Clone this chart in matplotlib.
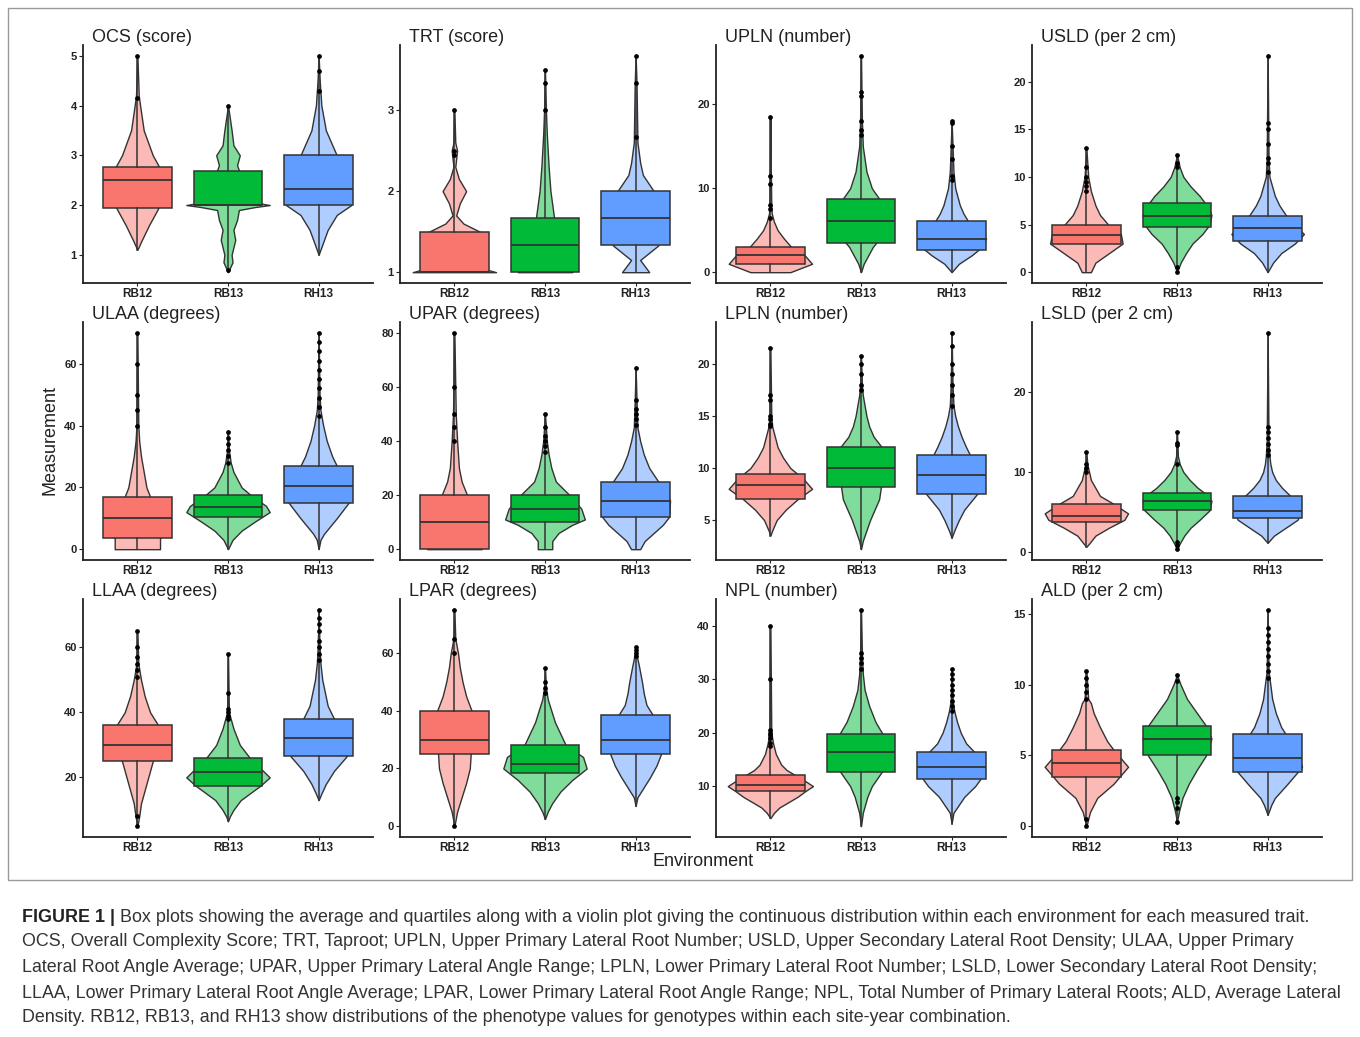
import matplotlib
matplotlib.use("Agg")
import matplotlib.pyplot as plt
from matplotlib.patches import Rectangle

plt.rcParams['font.family'] = ['Liberation Sans', 'DejaVu Sans']

envs = ["RB12", "RB13", "RH13"]
colors = ["#F8766D", "#00BA38", "#619CFF"]

titles = ["OCS (score)", "TRT (score)", "UPLN (number)", "USLD (per 2 cm)",
          "ULAA (degrees)", "UPAR (degrees)", "LPLN (number)", "LSLD (per 2 cm)",
          "LLAA (degrees)", "LPAR (degrees)", "NPL (number)", "ALD (per 2 cm)"]

yticks = [[1, 2, 3, 4, 5], [1, 2, 3], [0, 10, 20], [0, 5, 10, 15, 20],
          [0, 20, 40, 60], [0, 20, 40, 60, 80], [5, 10, 15, 20], [0, 10, 20],
          [20, 40, 60], [0, 20, 40, 60], [10, 20, 30, 40], [0, 5, 10, 15]]

# box statistics per trait, one value per environment
q1 = [[1.95, 2.0, 2.0], [1.0, 1.0, 1.33], [1.0, 3.5, 2.7], [3.0, 4.7, 3.3],
      [3.5, 10.5, 15], [0, 10, 12], [7.0, 8.2, 7.5], [3.7, 5.2, 4.2],
      [25, 17.5, 26.5], [25, 18.5, 25], [9, 12.7, 11.4], [3.5, 5.0, 3.8]]
med = [[2.5, 2.0, 2.33], [1.0, 1.33, 1.67], [2.0, 6.1, 4.0], [3.9, 5.9, 4.6],
       [10, 13.5, 20.5], [10, 15, 18], [8.4, 10, 9.3], [4.5, 6.4, 5.1],
       [30, 21.5, 32], [30, 21.5, 30], [10.3, 16.4, 13.5], [4.5, 6.2, 4.8]]
q3 = [[2.76, 2.68, 3.0], [1.5, 1.67, 2.0], [3.0, 8.7, 6.1], [5.0, 7.3, 5.9],
      [17, 17.5, 27], [20, 20, 25], [9.4, 12, 11.3], [6.0, 7.4, 7.0],
      [36, 26, 38], [40, 28, 38.5], [12, 19.7, 16.4], [5.4, 7.1, 6.5]]
vmin = [[1.1, 0.65, 1.0], [1.0, 1.0, 1.0], [0, 0, 0], [0, 0, 0],
        [0, 0, 0], [0, 0, 0], [3.5, 2.2, 3.3], [0.6, 0.3, 1.1],
        [5, 6.5, 13], [0, 2.5, 7], [4, 2.5, 3], [0, 0.3, 0.8]]
vmax = [[5.0, 4.0, 5.0], [3.0, 3.5, 3.67], [18.5, 25.8, 18], [13, 12.3, 22.7],
        [70, 38, 70], [80, 50, 67], [21.5, 20.8, 23], [12.5, 15, 27.5],
        [65, 58, 71.5], [75, 55, 62], [40, 43, 32], [11, 10.7, 15.3]]

# individual points visible in the tails
points = [
    [[5.0, 4.15], [4.0, 0.7], [5.0, 4.7, 4.3]],
    [[3.0, 2.5, 2.45], [3.5, 3.33, 3.0], [3.67, 3.33, 2.67]],
    [[18.5, 11.5, 10.5, 8, 7.5, 6.5], [25.8, 21.5, 21, 18, 17, 16.3], [18, 17.8, 15, 13.5, 11.5, 11]],
    [[13, 11, 10, 9.5, 9, 8.5], [12.3, 11.5, 11, 0.5, 0], [22.7, 15.7, 15, 13.5, 12, 11.5, 10.5]],
    [[70, 60, 50, 45, 40], [38, 36, 34, 32, 30, 28], [70, 67, 64, 61, 58, 55, 52, 49, 46, 43]],
    [[80, 60, 50, 45, 40], [50, 45, 42, 40, 38, 36], [67, 55, 52, 50, 48, 46]],
    [[21.5, 17, 16.5, 15, 14.7, 14.2, 14], [20.8, 20, 19, 18, 17.5], [23, 21.7, 20, 19, 18, 17, 16]],
    [[12.5, 11, 10.5, 10], [15, 13.7, 13.4, 11, 1.2, 0.8, 0.3], [27.5, 15.7, 15, 14.3, 13.5, 12.8, 12.2]],
    [[65, 60, 57, 55, 53, 51, 8, 5], [58, 46, 41, 40, 39, 38], [71.5, 69, 67, 65, 62, 60, 58, 56]],
    [[75, 65, 60, 0], [55, 50, 48, 46], [62, 61, 60, 59]],
    [[40, 30, 20.5, 20, 19.5, 19, 18, 17.5], [43, 35, 34, 33, 32], [32, 31, 30, 29, 28, 27, 26, 25, 24]],
    [[11, 10.5, 10, 9.5, 9, 0.5, 0], [10.7, 10.3, 2, 1.7, 1.3, 0.3], [15.3, 14, 13.5, 13, 12.5, 12, 11.5, 11, 10.5]],
]

# violin outlines: levels and half widths
viol_y = [
    [[1.1, 1.3, 1.6, 1.9, 2.2, 2.5, 2.8, 3.0, 3.5, 4.0, 4.2, 5.0],
     [0.65, 0.85, 1.0, 1.3, 1.5, 1.7, 1.9, 1.96, 2.0, 2.05, 2.1, 2.3, 2.6, 2.8, 3.0, 3.2, 3.5, 4.0],
     [1.0, 1.2, 1.5, 1.8, 2.0, 2.2, 2.6, 3.0, 3.5, 4.0, 4.5, 5.0]],
    [[1.0, 1.05, 1.2, 1.5, 1.6, 1.7, 1.85, 2.0, 2.15, 2.3, 2.5, 2.6, 3.0],
     [1.0, 1.2, 1.5, 1.67, 2.0, 2.3, 2.7, 3.0, 3.5],
     [1.0, 1.15, 1.33, 1.67, 2.0, 2.2, 2.35, 2.6, 3.33, 3.67]],
    [[0, 1, 2, 3, 4, 5, 6, 7, 8, 12, 18.5],
     [0, 1, 3, 5, 6, 8, 10, 12, 15, 18, 25.8],
     [0, 1, 2, 2.7, 4, 5, 6.1, 7, 8, 10, 12, 18]],
    [[0, 1, 2, 3, 4, 5, 6, 7, 8.5, 10, 13],
     [0, 1, 2, 3, 4, 5, 6, 7, 8, 9, 10, 11, 12.3],
     [0, 1, 2, 3, 4, 5, 6, 7, 8, 9, 10, 12, 22.7]],
    [[0, 3.5, 5, 10, 17, 20, 25, 30, 35, 40, 70],
     [0, 3, 6, 9, 12, 14, 17.5, 20, 25, 28, 32, 38],
     [0, 3, 5, 10, 15, 20, 27, 30, 35, 40, 45, 50, 70]],
    [[0, 5, 10, 15, 20, 25, 30, 40, 50, 60, 80],
     [0, 3, 6, 9, 11, 15, 20, 25, 30, 35, 40, 50],
     [0, 3, 6, 9, 12, 18, 25, 30, 35, 40, 45, 55, 67]],
    [[3.5, 4, 5, 6, 7, 8, 9, 10, 11, 12, 13, 14, 15, 21.5],
     [2.2, 3, 4, 5, 6, 7, 8.2, 10, 12, 13, 14, 15, 16, 17, 18, 20.8],
     [3.3, 4, 5, 6, 7.5, 9, 11.3, 12, 13, 14, 15, 16, 18, 23]],
    [[0.6, 1, 2, 3, 4, 4.8, 6, 7, 8, 9, 10, 11, 12.5],
     [0.3, 1, 2, 3, 4, 5.2, 6.4, 7.4, 8, 9, 10, 11, 12, 15],
     [1.1, 2, 3, 4, 5, 6, 7, 8, 9, 10, 11, 12, 14, 27.5]],
    [[5, 8, 12, 16, 20, 25, 30, 36, 40, 45, 50, 55, 65],
     [6.5, 8, 10, 13, 17.5, 20, 26, 30, 35, 38, 40, 58],
     [13, 15, 18, 22, 26.5, 32, 38, 42, 46, 50, 55, 60, 71.5]],
    [[0, 5, 10, 15, 20, 25, 32, 40, 45, 50, 55, 60, 65, 75],
     [2.5, 5, 8, 12, 16, 20, 24, 28, 32, 36, 40, 44, 48, 55],
     [7, 10, 13, 17, 21, 25, 32, 38.5, 42, 46, 50, 55, 58, 62]],
    [[4, 5, 6, 7, 8, 9, 10, 11, 12, 13, 14, 16, 18, 20, 40],
     [2.5, 5, 8, 10, 12.7, 16, 19.7, 22, 25, 28, 31, 35, 43],
     [3, 5, 6, 8, 10, 11.4, 13.5, 16.4, 18, 20, 22, 24, 26, 32]],
    [[0, 0.5, 1, 2, 3, 4.2, 5.4, 6, 7, 8, 8.7, 9, 10, 11],
     [0.3, 1, 2, 3, 4, 5, 6.2, 7.1, 8, 9, 10, 10.7],
     [0.8, 1.5, 2, 3, 4.2, 5, 6.5, 7, 8, 9, 10, 11, 15.3]],
]
viol_w = [
    [[0, 0.05, 0.13, 0.22, 0.3, 0.32, 0.23, 0.17, 0.07, 0.03, 0.015, 0],
     [0, 0.05, 0.04, 0.08, 0.06, 0.1, 0.12, 0.3, 0.46, 0.3, 0.12, 0.12, 0.14, 0.1, 0.13, 0.06, 0.04, 0],
     [0, 0.04, 0.1, 0.2, 0.36, 0.36, 0.3, 0.2, 0.08, 0.03, 0.012, 0]],
    [[0.46, 0.3, 0.3, 0.28, 0.1, 0.02, 0.06, 0.13, 0.05, 0.01, 0.03, 0.01, 0],
     [0.3, 0.3, 0.2, 0.1, 0.06, 0.04, 0.02, 0.01, 0],
     [0.15, 0.05, 0.25, 0.3, 0.2, 0.08, 0.05, 0.02, 0.01, 0]],
    [[0.22, 0.46, 0.38, 0.23, 0.15, 0.08, 0.04, 0.015, 0.01, 0.005, 0],
     [0, 0.03, 0.13, 0.28, 0.32, 0.25, 0.12, 0.06, 0.02, 0.01, 0],
     [0, 0.08, 0.22, 0.3, 0.38, 0.3, 0.18, 0.13, 0.09, 0.04, 0.02, 0]],
    [[0.05, 0.1, 0.25, 0.4, 0.38, 0.24, 0.15, 0.1, 0.05, 0.02, 0],
     [0, 0.04, 0.1, 0.17, 0.28, 0.36, 0.38, 0.33, 0.25, 0.15, 0.07, 0.03, 0],
     [0, 0.06, 0.15, 0.3, 0.4, 0.3, 0.2, 0.13, 0.08, 0.05, 0.02, 0.01, 0]],
    [[0.25, 0.25, 0.3, 0.28, 0.14, 0.1, 0.07, 0.04, 0.02, 0.01, 0],
     [0, 0.05, 0.15, 0.3, 0.46, 0.42, 0.25, 0.15, 0.06, 0.03, 0.01, 0],
     [0, 0.02, 0.06, 0.2, 0.33, 0.36, 0.2, 0.15, 0.09, 0.05, 0.02, 0.01, 0]],
    [[0.3, 0.3, 0.3, 0.25, 0.14, 0.08, 0.05, 0.03, 0.015, 0.01, 0],
     [0.08, 0.08, 0.15, 0.3, 0.44, 0.4, 0.27, 0.12, 0.07, 0.04, 0.02, 0],
     [0.05, 0.1, 0.2, 0.3, 0.37, 0.38, 0.25, 0.15, 0.09, 0.05, 0.02, 0.01, 0]],
    [[0, 0.02, 0.07, 0.17, 0.3, 0.46, 0.36, 0.22, 0.14, 0.08, 0.05, 0.02, 0.01, 0],
     [0, 0.02, 0.06, 0.1, 0.15, 0.2, 0.22, 0.3, 0.23, 0.14, 0.09, 0.06, 0.04, 0.02, 0.01, 0],
     [0, 0.03, 0.08, 0.14, 0.28, 0.33, 0.2, 0.16, 0.11, 0.07, 0.04, 0.02, 0.01, 0]],
    [[0, 0.03, 0.1, 0.25, 0.42, 0.46, 0.3, 0.15, 0.1, 0.05, 0.03, 0.01, 0],
     [0, 0.03, 0.08, 0.15, 0.25, 0.36, 0.38, 0.3, 0.23, 0.14, 0.07, 0.03, 0.01, 0],
     [0, 0.07, 0.2, 0.33, 0.37, 0.3, 0.25, 0.16, 0.09, 0.05, 0.03, 0.02, 0.01, 0]],
    [[0, 0.02, 0.04, 0.08, 0.12, 0.17, 0.3, 0.23, 0.14, 0.08, 0.04, 0.01, 0],
     [0, 0.02, 0.06, 0.14, 0.36, 0.46, 0.24, 0.13, 0.06, 0.03, 0.01, 0],
     [0, 0.03, 0.08, 0.17, 0.31, 0.35, 0.17, 0.1, 0.07, 0.04, 0.02, 0.01, 0]],
    [[0, 0.03, 0.08, 0.13, 0.17, 0.18, 0.25, 0.19, 0.13, 0.09, 0.06, 0.04, 0.01, 0],
     [0, 0.03, 0.08, 0.17, 0.3, 0.46, 0.42, 0.23, 0.17, 0.11, 0.07, 0.03, 0.01, 0],
     [0, 0.02, 0.08, 0.16, 0.23, 0.28, 0.3, 0.19, 0.12, 0.09, 0.07, 0.04, 0.02, 0]],
    [[0, 0.04, 0.1, 0.2, 0.3, 0.38, 0.47, 0.38, 0.28, 0.18, 0.12, 0.06, 0.03, 0.01, 0],
     [0, 0.02, 0.07, 0.12, 0.23, 0.3, 0.24, 0.16, 0.09, 0.04, 0.02, 0.01, 0],
     [0, 0.02, 0.06, 0.14, 0.26, 0.32, 0.37, 0.25, 0.16, 0.1, 0.06, 0.03, 0.01, 0]],
    [[0, 0.02, 0.04, 0.12, 0.3, 0.46, 0.3, 0.23, 0.15, 0.08, 0.05, 0.02, 0.01, 0],
     [0, 0.02, 0.06, 0.13, 0.22, 0.32, 0.38, 0.32, 0.22, 0.11, 0.04, 0],
     [0, 0.04, 0.08, 0.22, 0.38, 0.33, 0.2, 0.15, 0.09, 0.05, 0.03, 0.01, 0]],
]

W, H = 1360, 1037
fig = plt.figure(figsize=(W / 100, H / 100), dpi=100)

col_left = [83, 400, 716, 1032]
row_bottom = [283, 560, 837]
ax_w, ax_h = 290, 238
edge = "#333333"

for k, title in enumerate(titles):
    r, c = divmod(k, 4)
    ax = fig.add_axes([col_left[c] / W, 1 - row_bottom[r] / H, ax_w / W, ax_h / H])
    pos = [1, 2, 3]

    for g in range(3):
        vp = dict(coords=viol_y[k][g], vals=viol_w[k][g], mean=med[k][g],
                  median=med[k][g], min=vmin[k][g], max=vmax[k][g])
        parts = ax.violin([vp], positions=[pos[g]], widths=[2 * max(viol_w[k][g])],
                          showmeans=False, showextrema=False, showmedians=False)
        for b in parts['bodies']:
            b.set_alpha(None)
            b.set_facecolor(matplotlib.colors.to_rgba(colors[g], 0.5))
            b.set_edgecolor(edge)
            b.set_linewidth(1.0)
            b.set_zorder(2)

    stats = [dict(med=med[k][g], q1=q1[k][g], q3=q3[k][g],
                  whislo=vmin[k][g], whishi=vmax[k][g]) for g in range(3)]
    bp = ax.bxp(stats, positions=pos, widths=0.76, patch_artist=True,
                showfliers=False, showcaps=False,
                boxprops=dict(edgecolor=edge, linewidth=1.1),
                medianprops=dict(color=edge, linewidth=1.3),
                whiskerprops=dict(color=edge, linewidth=1.1), zorder=3)
    for patch, col in zip(bp['boxes'], colors):
        patch.set_facecolor(col)

    for g in range(3):
        ax.plot([pos[g]] * len(points[k][g]), points[k][g], 'o', ms=2.4,
                color='black', zorder=5)

    lo = min(vmin[k])
    hi = max(vmax[k])
    pad = 0.05 * (hi - lo)
    ax.set_ylim(lo - pad, hi + pad)
    ax.set_xlim(0.4, 3.6)
    ax.set_yticks(yticks[k])
    ax.set_xticks(pos)
    ax.set_xticklabels(envs)
    for s in ['top', 'right']:
        ax.spines[s].set_visible(False)
    for s in ['left', 'bottom']:
        ax.spines[s].set_linewidth(1.3)
        ax.spines[s].set_color('#222222')
    ax.tick_params(axis='y', length=3, width=0.8, pad=1.5, labelsize=8,
                   colors='#222222')
    ax.tick_params(axis='x', length=2, width=0.8, pad=1.5, labelsize=8.5,
                   colors='#222222')
    for lab in ax.get_yticklabels() + ax.get_xticklabels():
        lab.set_fontweight('bold')
    ax.patch.set_alpha(0)
    ax.text(0.031, 1.012, title, transform=ax.transAxes, fontsize=13,
            color='#222222', va='baseline', ha='left')

fig.text(50 / W, 1 - 440 / H, "Measurement", rotation=90, fontsize=13,
         ha='center', va='center', color='#222222')
fig.text(703 / W, 1 - 862 / H, "Environment", fontsize=13,
         ha='center', va='center', color='#222222')

# thin frame around the graphic
fig.patches.append(Rectangle((8 / W, 1 - 880 / H), 1344 / W, 872 / H,
                             transform=fig.transFigure, fill=False,
                             edgecolor='#999999', linewidth=1.0))

# caption
cap_lines = [
    "Box plots showing the average and quartiles along with a violin plot giving the continuous distribution within each environment for each measured trait.",
    "OCS, Overall Complexity Score; TRT, Taproot; UPLN, Upper Primary Lateral Root Number; USLD, Upper Secondary Lateral Root Density; ULAA, Upper Primary",
    "Lateral Root Angle Average; UPAR, Upper Primary Lateral Angle Range; LPLN, Lower Primary Lateral Root Number; LSLD, Lower Secondary Lateral Root Density;",
    "LLAA, Lower Primary Lateral Root Angle Average; LPAR, Lower Primary Lateral Root Angle Range; NPL, Total Number of Primary Lateral Roots; ALD, Average Lateral",
    "Density. RB12, RB13, and RH13 show distributions of the phenotype values for genotypes within each site-year combination.",
]
cap_y = [917, 942, 968, 993, 1018]
cap_size = 12.85
renderer = fig.canvas.get_renderer()
head = fig.text(22 / W, 1 - cap_y[0] / H, "FIGURE 1 | ", fontsize=cap_size,
                fontweight='bold', color='#222222', va='center', ha='left')
hw = head.get_window_extent(renderer).width
for i, line in enumerate(cap_lines):
    x0 = 22 + (hw if i == 0 else 0)
    fig.text(x0 / W, 1 - cap_y[i] / H, line, fontsize=cap_size,
             color='#333333', va='center', ha='left')

fig.savefig("out.png", dpi=100)
